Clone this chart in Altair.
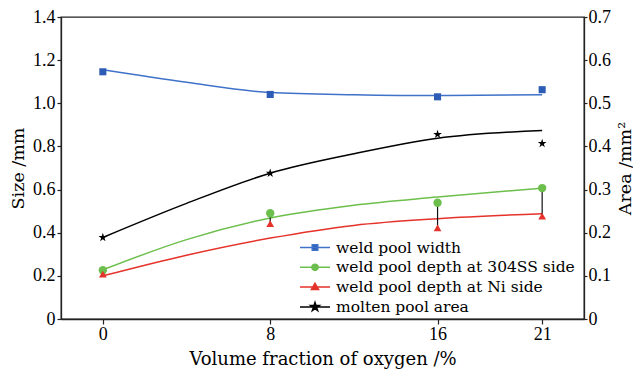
import altair as alt
import pandas as pd

x_vals = [0, 8, 16, 21]
pool_width = [1.146, 1.041, 1.030, 1.063]
depth_304ss = [0.226, 0.490, 0.539, 0.607]
depth_ni = [0.208, 0.442, 0.422, 0.477]
pool_area = [0.189, 0.338, 0.428, 0.407]

# ---- fitted curves ----
fit_x = [0, 4, 8, 12, 16, 21]
fit_width = [1.155, 1.097, 1.050, 1.040, 1.036, 1.040]
fit_304ss = [0.228, 0.368, 0.468, 0.527, 0.565, 0.607]
fit_ni = [0.200, 0.296, 0.375, 0.434, 0.465, 0.488]
fit_area = [0.189, 0.268, 0.338, 0.383, 0.419, 0.437]

series = ["weld pool width", "weld pool depth at 304SS side",
          "weld pool depth at Ni side", "molten pool area"]
colors = ["#2c5cb6", "#6cbf4c", "#e5322a", "#000000"]
line_colors = ["#3f72c9", "#6cbf4c", "#e5322a", "#000000"]

x_ticks = [0, 8, 16, 21]
size_ticks = [0, 0.2, 0.4, 0.6, 0.8, 1.0, 1.2, 1.4]
area_ticks = [0, 0.1, 0.2, 0.3, 0.4, 0.5, 0.6, 0.7]

pts = pd.DataFrame({"x": x_vals, "width": pool_width, "d304": depth_304ss,
                    "dni": depth_ni, "area": pool_area})
fit = pd.DataFrame({"x": fit_x, "width": fit_width, "d304": fit_304ss,
                    "dni": fit_ni, "area": fit_area})

STAR = ("M0,-1L0.2245,-0.309L0.951,-0.309L0.363,0.118L0.588,0.809L0,0.382"
        "L-0.588,0.809L-0.363,0.118L-0.951,-0.309L-0.2245,-0.309Z")
legend_paths = [
    "M-2,0H2M-0.37,-0.37H0.37V0.37H-0.37Z",
    "M-2,0H2M-0.42,0A0.42,0.42,0,1,1,0.42,0A0.42,0.42,0,1,1,-0.42,0Z",
    "M-2,0H2M0,-0.5L0.48,0.32L-0.48,0.32Z",
    "M-2,0H2M0,-0.6L0.135,-0.185L0.571,-0.185L0.218,0.071L0.353,0.485L0,0.229"
    "L-0.353,0.485L-0.218,0.071L-0.571,-0.185L-0.135,-0.185Z",
]

SERIF = "DejaVu Serif"
NUM = "Liberation Serif"

x_axis = alt.Axis(values=x_ticks, title="Volume fraction of oxygen /%",
                  tickSize=5, labelPadding=1, labelFont=NUM, labelFontSize=18,
                  titleFont=SERIF, titleFontSize=18, titleFontWeight="normal",
                  titleBaseline="alphabetic", titleY=45, grid=False)
X = alt.X("x:Q", scale=alt.Scale(domain=[-2, 23], nice=False, zero=False), axis=x_axis)

left_axis = alt.Axis(values=size_ticks, orient="left", title="Size /mm",
                     labelExpr="datum.value == 0 ? '0' : format(datum.value, '.1f')",
                     tickSize=4, labelPadding=2, labelFont=NUM, labelFontSize=18,
                     titleFont=SERIF, titleFontSize=17.5, titleFontWeight="normal",
                     titleAngle=270, titleX=-43, titleY=151, titleAlign="center",
                     titleBaseline="middle", grid=False)
right_axis = alt.Axis(values=area_ticks, orient="right", title="Area /mm²",
                      labelExpr="datum.value == 0 ? '0' : format(datum.value, '.1f')",
                      tickSize=3, labelPadding=1, labelFont=NUM, labelFontSize=18,
                      titleFont=SERIF, titleFontSize=17.5, titleFontWeight="normal",
                      titleAngle=270, titleX=41, titleY=151, titleAlign="center",
                      titleBaseline="middle", grid=False)

size_scale = alt.Scale(domain=[0, 1.4], nice=False)
area_scale = alt.Scale(domain=[0, 0.7], nice=False)


def ys(col):
    return alt.Y(f"{col}:Q", scale=size_scale, axis=left_axis)


def ya(col):
    return alt.Y(f"{col}:Q", scale=area_scale, axis=right_axis)


def fit_line(col, color, yfun):
    return alt.Chart(fit).mark_line(interpolate="monotone", color=color,
                                    strokeWidth=1.5).encode(x=X, y=yfun(col))


def markers(col, shape, color, size, yfun):
    return alt.Chart(pts).mark_point(shape=shape, filled=True, color=color,
                                     size=size, opacity=1).encode(x=X, y=yfun(col))


rules = alt.Chart(pts).mark_rule(color="#111111", strokeWidth=1.2).encode(
    x=X, y=ys("d304"), y2="dni:Q")

leg = alt.Legend(orient="none", legendX=245.5, legendY=222, title=None,
                 labelFont=SERIF, labelFontSize=15.5, labelColor="black",
                 labelLimit=400, labelOffset=12.5, symbolSize=225,
                 symbolStrokeWidth=1.5, rowPadding=2.8, padding=0)
legend_layer = alt.Chart(pd.DataFrame({"series": series})).transform_filter(
    "false").mark_point(filled=True, opacity=1).encode(
    fill=alt.Fill("series:N", scale=alt.Scale(domain=series, range=colors), legend=leg),
    stroke=alt.Stroke("series:N", scale=alt.Scale(domain=series, range=line_colors), legend=leg),
    shape=alt.Shape("series:N", scale=alt.Scale(domain=series, range=legend_paths), legend=leg),
)

left = alt.layer(
    fit_line("width", line_colors[0], ys),
    fit_line("d304", line_colors[1], ys),
    fit_line("dni", line_colors[2], ys),
    rules,
    markers("width", "square", colors[0], 50, ys),
    markers("d304", "circle", colors[1], 70, ys),
    markers("dni", "triangle-up", colors[2], 60, ys),
    legend_layer,
)
right = alt.layer(
    fit_line("area", line_colors[3], ya),
    markers("area", STAR, colors[3], 85, ya),
)

chart = alt.layer(left, right).resolve_scale(y="independent").properties(
    width=523, height=302,
    autosize=alt.AutoSizeParams(type="none"),
    padding={"left": 53, "top": 9, "right": 49, "bottom": 55},
).configure_view(stroke="#222222", strokeWidth=1.3).configure_axis(
    domainColor="#222222", domainWidth=1.3, tickColor="#222222", tickWidth=1.2,
    labelColor="black", titleColor="black",
)

chart.save("out.html", embed_options={"renderer": "svg", "actions": False})
